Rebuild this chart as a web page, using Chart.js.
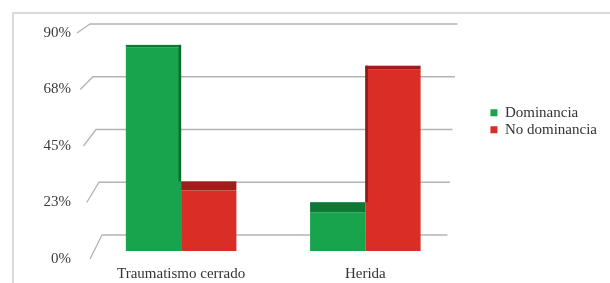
<!DOCTYPE html>
<html>
<head>
<meta charset="utf-8">
<script src="https://cdn.jsdelivr.net/npm/chart.js@4.4.1/dist/chart.umd.min.js"></script>
<style>
  html, body { margin: 0; padding: 0; background: #fff; }
</style>
</head>
<body>
<canvas id="grafico" width="610" height="283"></canvas>
<script>
// Datos
const categorias = ['Traumatismo cerrado', 'Herida'];
const dominancia = [84, 16];
const noDominancia = [25, 75];
const yMax = 90;
const yPaso = 22.5;

const fuente = "'Liberation Serif', 'Times New Roman', serif";

// marco gris claro del gráfico
const marco = {
  id: 'marco',
  beforeDraw(chart) {
    const ctx = chart.ctx;
    ctx.save();
    ctx.fillStyle = '#fff';
    ctx.fillRect(0, 0, chart.width, chart.height);
    ctx.strokeStyle = '#dadada';
    ctx.lineWidth = 2;
    ctx.beginPath();
    ctx.moveTo(13, chart.height);
    ctx.lineTo(13, 13);
    ctx.lineTo(chart.width, 13);
    ctx.stroke();
    ctx.restore();
  }
};

// líneas de la pared del fondo (efecto 3D)
const paredFondo = {
  id: 'paredFondo',
  beforeDatasetsDraw(chart) {
    const { ctx, chartArea } = chart;
    const esc = chart.scales.y2;
    ctx.save();
    ctx.strokeStyle = '#b4b4b4';
    ctx.lineWidth = 1.3;
    esc.ticks.forEach(t => {
      const f = t.value / yMax;
      const yFrente = esc.getPixelForValue(t.value);
      const yFondo = yFrente - (24 - 15 * f);
      const xFrente = chartArea.left + 1 - 13 * f;
      const xFondo = chartArea.left + 13 - 12 * f;
      const xFin = chartArea.right - 10 + 10 * f;
      ctx.beginPath();
      ctx.moveTo(xFrente, yFrente);
      ctx.lineTo(xFondo, yFondo);
      ctx.lineTo(xFin, yFondo);
      ctx.stroke();
    });
    ctx.restore();
  }
};

// cara superior y lateral de las barras
const caras3d = {
  id: 'caras3d',
  afterDatasetsDraw(chart) {
    const { ctx, chartArea } = chart;
    const prof = y => 2 + (y - chartArea.top) * 0.045;
    ctx.save();
    chart.data.datasets.forEach((ds, i) => {
      const meta = chart.getDatasetMeta(i);
      const vecina = chart.getDatasetMeta(1 - i);
      meta.data.forEach((bar, j) => {
        const { x, y, width } = bar.getProps(['x', 'y', 'width'], true);
        const izq = x - width / 2;
        const d = prof(y);
        ctx.fillStyle = ds.colorSuperior;
        ctx.fillRect(izq, y - d, width, d);
        if (ds.data[j] > chart.data.datasets[1 - i].data[j]) {
          const yv = vecina.data[j].y;
          const lado = i === 0 ? izq + width - 2.5 : izq;
          ctx.fillStyle = ds.colorLateral;
          ctx.fillRect(lado, y - d, 2.5, yv - prof(yv) - (y - d));
        }
      });
    });
    ctx.restore();
  }
};

new Chart(document.getElementById('grafico'), {
  type: 'bar',
  data: {
    labels: categorias,
    datasets: [
      {
        label: 'Dominancia',
        data: dominancia,
        backgroundColor: '#18a44d',
        colorSuperior: '#0e7834',
        colorLateral: '#0b6a2d',
        yAxisID: 'y',
        base: 0
      },
      {
        label: 'No dominancia',
        data: noDominancia,
        backgroundColor: '#d92d26',
        colorSuperior: '#a01d1a',
        colorLateral: '#8f1a17',
        yAxisID: 'y',
        base: 0
      }
    ]
  },
  options: {
    responsive: false,
    animation: false,
    layout: { padding: { top: 33, right: 3, bottom: 0, left: 0 } },
    datasets: {
      bar: { categoryPercentage: 0.6, barPercentage: 1.0, borderWidth: 0 }
    },
    scales: {
      x: {
        offset: true,
        grid: { display: false, drawTicks: false },
        border: { display: false },
        ticks: { color: '#333', font: { family: fuente, size: 15 }, padding: 6 },
        afterFit: s => { s.height = 24; }
      },
      y: {
        display: false,
        min: -3.3,
        max: yMax
      },
      y2: {
        position: 'left',
        min: 0,
        max: yMax,
        grid: { display: false, drawTicks: true, tickLength: 16 },
        border: { display: false },
        ticks: {
          stepSize: yPaso,
          padding: 2,
          color: '#3c3c3c',
          font: { family: fuente, size: 15 },
          callback: v => Math.round(v) + '%'
        },
        afterFit: s => { s.width = 89; }
      },
      yR: {
        position: 'right',
        min: 0,
        max: 1,
        grid: { display: false, drawTicks: false },
        border: { display: false },
        ticks: { display: false },
        afterFit: s => { s.width = 31; }
      }
    },
    plugins: {
      tooltip: { enabled: false },
      legend: {
        position: 'right',
        align: 'start',
        maxWidth: 140,
        title: { display: true, text: '', font: { size: 1 }, padding: { top: 69, bottom: 0 } },
        labels: {
          boxWidth: 7,
          boxHeight: 7,
          padding: 2,
          color: '#333',
          font: { family: fuente, size: 15 }
        }
      }
    }
  },
  plugins: [marco, paredFondo, caras3d]
});
</script>
</body>
</html>
